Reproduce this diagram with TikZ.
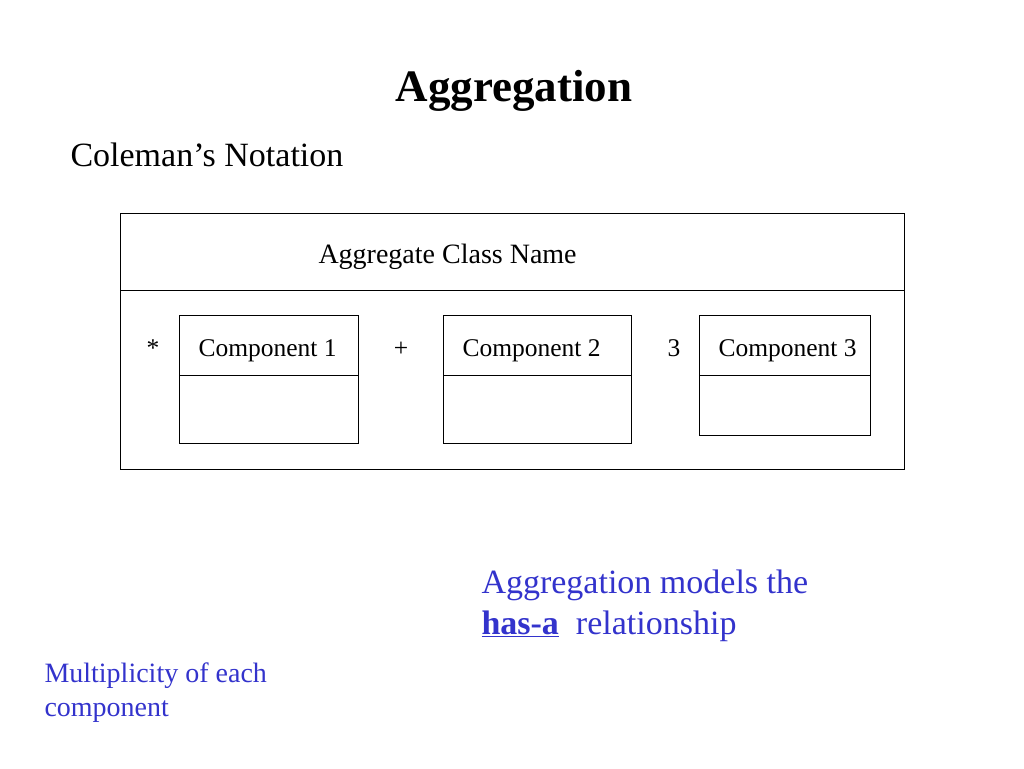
\documentclass[tikz,border=0pt]{standalone}
\usepackage{fontspec}
\setmainfont{Liberation Serif}
\definecolor{noteblue}{RGB}{51,51,204}

\begin{document}
\begin{tikzpicture}[x=1pt,y=-1pt,line width=1pt,
	txt/.style={inner sep=0pt,anchor=base west},
	sz/.style={font=\fontsize{#1}{#1}\selectfont}]
	\useasboundingbox (0,0) rectangle (1024,768);
	\path
	(120,213) coordinate (TL)
	(904,469) coordinate (BR)
	(120,290) coordinate (DL)
	(904,290) coordinate (DR);
	\node[inner sep=0pt,anchor=base,sz=45] (title) at (514,101) {\textbf{Aggregation}};
	\node[txt,sz=34] (notation) at (70,166) {Coleman’s Notation};
	\draw (TL) rectangle (BR) (DL)--(DR);
	\node[txt,sz=28] (aggname) at (318,263) {Aggregate Class Name};
	\foreach \n/\xa/\xb/\yb/\m/\mx in {1/179/358/443/*/153,2/443/631/443/+/401,3/699/870/435/3/674} {
		\draw (\xa,315) coordinate (c\n tl) rectangle (\xb,\yb) coordinate (c\n br)
		(\xa,375)--(\xb,375);
		\node[txt,sz=25.5] (comp\n) at (\xa+19,356) {Component \n};
		\node[inner sep=0pt,anchor=base,sz=25.5] (mult\n) at (\mx,356) {\m};
	}
	\node[txt,sz=34,text=noteblue,align=left] (hasa) at (481,593) {Aggregation models the};
	\node[txt,sz=34,text=noteblue] (hasa2) at (481,634) {\underline{\textbf{has-a}}\ \ relationship};
	\node[txt,sz=28,text=noteblue] (multnote) at (44,682) {Multiplicity of each};
	\node[txt,sz=28,text=noteblue] (multnote2) at (44,716) {component};
\end{tikzpicture}
\end{document}
